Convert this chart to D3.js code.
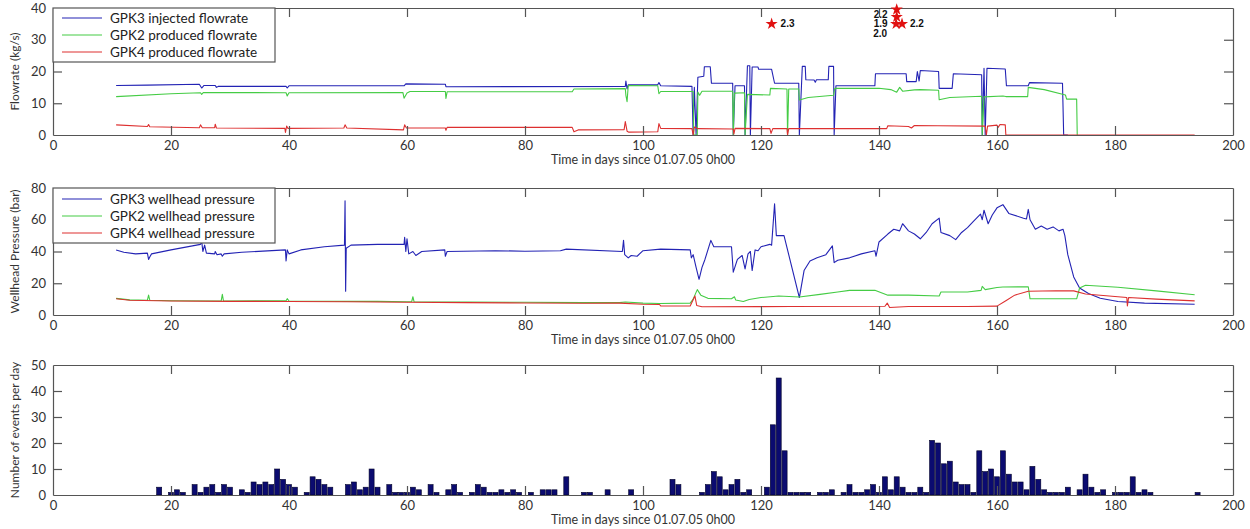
<!DOCTYPE html>
<html><head><meta charset="utf-8">
<script src="https://cdn.jsdelivr.net/npm/d3@7"></script>
<style>
body{margin:0;background:#fff;}
svg{display:block;font-family:Lato, "Liberation Sans", sans-serif;}
</style></head>
<body>
<svg id="c" width="1250" height="529"></svg>
<script>
// ---------------- DATA ----------------
const xTicks = [0,20,40,60,80,100,120,140,160,180,200];
const flowTicks = [0,10,20,30,40];
const pressureTicks = [0,20,40,60,80];
const eventTicks = [0,10,20,30,40,50];
const xTitle = "Time in days since 01.07.05 0h00";
const flowTitle = "Flowrate (kg/s)";
const pressureTitle = "Wellhead Pressure (bar)";
const eventTitle = "Number of events per day";
const flowLegend = ["GPK3 injected flowrate","GPK2 produced flowrate","GPK4 produced flowrate"];
const pressureLegend = ["GPK3 wellhead pressure","GPK2 wellhead pressure","GPK4 wellhead pressure"];

// [day, kg/s]
const gpk3Flow = [[10.7,15.6],[16,15.7],[24.8,16],[25.2,14.8],[25.6,15.6],[27.5,15.6],[27.7,15.0],[28,15.3],[39.5,15.3],[39.7,14.8],[40,15.5],[59.5,15.5],[59.8,16.1],[66.5,16],[66.6,15.2],[97,15.3],[97.1,17],[97.3,14.5],[97.5,15.8],[102.5,15.8],[102.7,16.5],[103,15.5],[108.3,15.3],[108.5,0],[108.7,15],[109,0],[109.3,18.2],[110.3,18.5],[110.4,21.5],[111.4,21.5],[111.6,16.3],[115.2,16.3],[115.3,0],[115.6,15.5],[117.2,15.5],[117.3,0],[117.7,21.8],[118.1,21.8],[118.2,0],[118.5,21.4],[119.5,21.4],[119.6,20.7],[121.8,20.7],[122.3,16.3],[126.4,16.3],[126.5,0],[127,21.6],[127.5,21.6],[127.6,17.4],[129,17.3],[129.2,16.6],[129.4,17.4],[131.4,17.4],[131.5,21.6],[132.3,21.6],[132.4,0],[132.7,15.5],[139.3,15.5],[139.4,19.3],[144.6,19.3],[144.7,16.8],[146.3,16.8],[146.5,20],[146.8,17],[147,20.3],[150.1,20],[150.2,14.7],[152.4,14.7],[152.6,19.3],[157.4,19],[157.5,0],[157.8,21],[158,0],[158.3,21],[161.4,20.8],[161.6,15.5],[165.3,15.5],[165.5,16.5],[171.1,16.3],[171.3,0],[172,0]];
const gpk2Flow = [[10.7,12.1],[20,13.0],[25,13.3],[25.2,12.8],[25.5,13.4],[39.5,13.3],[39.7,12.3],[40,13.3],[59.3,13.4],[59.5,11.6],[60,13.2],[60.5,13.7],[66.5,13.7],[66.6,11.5],[66.8,13.6],[88,13.6],[88.3,14.5],[97,14.6],[97.1,12.5],[97.3,10.5],[97.5,15.6],[102.5,15.5],[102.7,13.0],[103,13.7],[108.5,13.7],[108.6,0],[109.2,0],[109.3,13.5],[109.6,12.5],[110,13.8],[115.2,13.8],[115.3,0],[115.5,13.2],[117.2,13.3],[117.3,0],[117.7,12.8],[121.5,12.6],[121.6,14.7],[124.4,14.5],[124.5,0],[124.7,14.5],[126.4,14.5],[126.5,11],[128,11.8],[132.3,12.5],[132.5,14.7],[140,14.7],[142,14.3],[143,13.5],[143.5,15],[144,13.8],[146,14.2],[147,14.3],[150.1,14.1],[150.2,11.1],[152,11.8],[157.4,12.2],[157.5,0],[157.8,12],[161,12.3],[161.5,12.1],[165.2,12.1],[165.3,15],[168,14.3],[171.6,12.6],[171.8,11.3],[173.5,11.3],[173.6,0]];
const gpk4Flow = [[10.7,3.2],[16,2.7],[16.2,3.3],[16.4,2.6],[24.8,2.3],[25,3.2],[25.3,2.3],[27.4,2.3],[27.5,3.4],[27.7,2.2],[39.3,2.1],[39.4,0.8],[39.6,2.8],[39.8,2.1],[49.3,2.2],[49.5,3.2],[49.8,2.2],[59.4,1.6],[59.6,3.2],[59.9,2.2],[66.5,2.2],[66.6,1.5],[66.8,2.4],[88,2.4],[88.3,1.0],[89,1.6],[96.8,1.7],[97,4.2],[97.3,1.2],[97.6,0.9],[102.5,1.0],[102.7,3.6],[103,2.1],[108.3,2.0],[108.5,0],[108.7,2.5],[109.3,2.0],[115.3,1.9],[115.4,0.3],[115.6,2.1],[121.5,2.0],[121.7,0.5],[122,2],[124.4,2],[124.5,0],[124.7,2],[141.3,2.0],[141.5,2.9],[145,2.7],[145.5,2.2],[146,3],[150,2.9],[158,2.8],[158.2,0],[158.4,2.8],[160,3.1],[160.2,2.4],[160.5,3.3],[161.4,3.2],[161.5,0],[193.5,0]];

// [day, bar]
const gpk3Pressure = [[10.7,41],[12,39.5],[14,38.5],[16,39],[16.2,35],[16.4,36.5],[16.7,38.5],[20,41],[25,44.5],[25.2,46.5],[25.4,40],[25.7,44],[26,39],[27.4,38.5],[27.5,40],[27.8,38],[28.5,38.5],[28.7,37],[29,38.5],[32,39.5],[39.4,41],[39.5,34],[39.7,41],[40,38.5],[42,41],[46,43],[49.4,44],[49.5,72],[49.6,15],[49.7,42],[50.5,44],[55,44.5],[59.5,44.5],[59.6,49],[59.8,40],[60,48],[60.3,38.5],[61,40],[61.5,37.5],[62.5,40],[66.4,41],[66.5,37],[66.8,40],[75,40.5],[80,40.2],[86,40.5],[87,41.5],[96.5,40],[96.7,47],[96.9,38],[97.5,36],[98,37.5],[99,37],[100,40.5],[103,41.5],[108,41],[108.2,36],[108.5,38],[109,30],[109.5,22.5],[110,30],[110.5,35],[111.5,47],[112,43],[115,43],[115.3,27],[116,35],[116.8,37.5],[117.3,29],[117.8,38.5],[118.2,40],[118.5,28],[119,41],[119.5,40.5],[120,43],[121.5,44.5],[121.8,44],[122.3,70],[122.6,50],[123.9,50],[126.5,11],[127.3,28],[128.3,34],[129.5,36],[131,38],[132.1,43.5],[132.4,33],[133,34.5],[135,36],[137,38.5],[139.3,40.5],[139.5,37],[140,46],[141.5,51],[142.5,54],[143.5,53],[144,57.5],[145,53],[146,51],[147,48],[148,52],[149,57.5],[150.2,61],[150.5,52],[152,50],[153,47.5],[154,52],[155,55],[156,59],[157.2,63.5],[157.5,60],[157.8,66],[158.5,57.5],[159.2,63],[160,67.5],[161,69.5],[162,64],[164.5,61],[165,60.5],[165.3,66.5],[165.6,60],[166.5,54],[167.5,56],[168.5,54],[169.5,55.5],[170.5,53],[171.2,54],[171.5,50],[172,38],[173,24],[174,17],[175.5,13.5],[177.5,10.5],[180.5,8.5],[185,7.5],[193.5,6.8]];
const gpk2Pressure = [[10.7,10.5],[13,9.5],[16,9.3],[16.2,12.5],[16.4,9.3],[20,9],[28.5,8.8],[28.7,13],[28.9,8.8],[39.5,9],[39.7,10.3],[40,8.8],[50,8.6],[55,8.6],[60,8.3],[60.8,8.5],[61,11.5],[61.2,8.3],[70,8.2],[80,8],[90,7.8],[96,7.8],[97,8.2],[100,7.5],[102.8,7.2],[108,7.5],[108.5,10],[109.2,16],[109.8,12.5],[111,10.5],[115,10.2],[115.5,11.5],[115.7,9.5],[117,8.5],[118,9.8],[120,11],[123,12],[126.5,11.3],[130,13],[133,14.5],[135,15.5],[139.3,15.6],[141.5,12.5],[145,12.5],[150.2,12],[150.5,14.5],[155,14.5],[157.3,15.5],[157.5,18],[158,16],[160,17.3],[161,17.6],[165.3,17.8],[165.6,10.2],[173.5,10.2],[174,17],[175,18.7],[180.5,17.5],[187,15.2],[193.5,12.8]];
const gpk4Pressure = [[10.7,10.2],[13,9.3],[20,8.8],[30,8.6],[40,8.5],[50,8.3],[60,8],[70,7.8],[80,7.6],[90,7.4],[96,7.5],[100,6.8],[102.8,6.6],[103,5.7],[108,5.7],[108.8,12],[109.1,6],[110,5.2],[120,5.3],[125,5.4],[141,5.5],[141.4,7.5],[141.8,4.7],[145,5.4],[155,5.4],[160,5.6],[161.5,9],[163,12.5],[165.3,15],[170,15.3],[173,15.2],[175,13.2],[180.5,11.5],[182,11],[182.1,5.7],[182.3,11],[187,10],[193.5,8.9]];

// events per day
const eventDays = [18,20,21,22,24,25,26,27,28,29,30,32,33,34,35,36,37,38,39,40,41,43,44,45,46,47,50,51,52,53,54,55,57,58,59,60,61,62,64,65,67,68,69,71,72,73,74,75,76,77,78,79,81,83,84,85,87,90,91,94,98,105,106,110,111,112,113,114,115,116,117,118,121,122,123,124,125,126,127,128,130,131,132,134,135,136,137,138,139,140,141,142,143,144,145,146,147,148,149,150,151,152,153,154,155,156,157,158,159,160,161,162,163,164,165,166,167,168,169,170,171,172,174,175,176,177,178,180,181,182,183,184,185,186,194];
const eventCounts = [3,1,2,1,4,1,3,4,1,4,3,2,1,5,4,5,4,10,6,4,3,1,7,6,4,3,4,5,2,3,10,3,4,1,1,1,3,2,4,1,2,4,1,1,4,3,1,1,2,1,2,1,1,2,2,2,7,1,1,2,2,6,4,1,4,9,7,2,4,6,1,2,3,27,45,17,1,1,1,1,1,1,2,1,4,1,1,2,4,1,7,2,7,3,1,1,3,1,21,20,12,13,5,4,4,1,17,9,10,7,17,8,5,5,2,11,6,2,1,1,1,3,2,8,3,1,2,1,1,1,7,1,2,1,1];

// seismic event magnitudes marked on top panel
const starDays = [121.8, 143.0, 143.0, 142.9, 143.9];
const starValues = [35, 39.5, 37.2, 35, 35];
const starLabels = ["2.3", "2.2", "1.9", "2.0", "2.2"];

// ---------------- STYLE / LAYOUT ----------------
const colors = ["#2323b4", "#45cc45", "#dd3030"];
const axisColor = "#555";
const textColor = "#333";
const svg = d3.select("#c");
const x = d3.scaleLinear().domain([0,200]).range([53,1233]);

const panels = [
  {top:8, bottom:135, domain:[0,40], ticks:flowTicks, title:flowTitle},
  {top:188, bottom:315, domain:[0,80], ticks:pressureTicks, title:pressureTitle},
  {top:365, bottom:495, domain:[0,50], ticks:eventTicks, title:eventTitle}
];

function drawAxes(p, y){
  const g = svg.append("g");
  const tl = 9;
  const bx = g.append("g").attr("transform",`translate(0,${p.bottom})`)
    .call(d3.axisBottom(x).tickValues(xTicks).tickSizeInner(-tl).tickSizeOuter(0).tickPadding(6));
  const tx = g.append("g").attr("transform",`translate(0,${p.top})`)
    .call(d3.axisTop(x).tickValues(xTicks).tickSizeInner(-tl).tickSizeOuter(0).tickFormat(""));
  const ly = g.append("g").attr("transform",`translate(${x(0)},0)`)
    .call(d3.axisLeft(y).tickValues(p.ticks).tickSizeInner(-tl).tickSizeOuter(0).tickPadding(7));
  const ry = g.append("g").attr("transform",`translate(${x(200)},0)`)
    .call(d3.axisRight(y).tickValues(p.ticks).tickSizeInner(-tl).tickSizeOuter(0).tickFormat(""));
  g.selectAll("path.domain").attr("stroke",axisColor).attr("stroke-width",1.2);
  g.selectAll(".tick line").attr("stroke",axisColor).attr("stroke-width",1.2);
  g.selectAll(".tick text").attr("fill",textColor).attr("font-size",13).attr("font-family","Lato, sans-serif");
  bx.selectAll(".tick").filter(d=>d===0||d===200).select("line").remove();
  tx.selectAll(".tick").filter(d=>d===0||d===200).select("line").remove();
  ly.selectAll(".tick").filter(d=>d===p.domain[0]||d===p.domain[1]).select("line").remove();
  ry.selectAll(".tick").filter(d=>d===p.domain[0]||d===p.domain[1]).select("line").remove();
  svg.append("text").attr("x",(x(0)+x(200))/2).attr("y",p.bottom+29)
    .attr("text-anchor","middle").attr("font-size",12.5).attr("fill",textColor).text(xTitle);
  svg.append("text").attr("transform",`translate(19,${(p.top+p.bottom)/2}) rotate(-90)`)
    .attr("text-anchor","middle").attr("font-size",12).attr("fill",textColor).text(p.title);
}

function drawLines(series, y){
  const line = d3.line().x(d=>x(d[0])).y(d=>y(d[1]));
  series.forEach((s,i)=>{
    svg.append("path").datum(s).attr("d",line).attr("fill","none")
      .attr("stroke",colors[i]).attr("stroke-width",1.1).attr("stroke-linejoin","round");
  });
}

function drawLegend(p, labels, rowY){
  const g = svg.append("g");
  g.append("rect").attr("x",x(0)).attr("y",p.top).attr("width",222).attr("height",rowY[2]-p.top+10)
    .attr("fill","#fff").attr("stroke",axisColor).attr("stroke-width",1.2);
  labels.forEach((t,i)=>{
    g.append("line").attr("x1",62).attr("x2",102).attr("y1",rowY[i]).attr("y2",rowY[i])
      .attr("stroke",colors[i]).attr("stroke-width",1.2);
    g.append("text").attr("x",110).attr("y",rowY[i]+4.5).attr("font-size",13.5)
      .attr("fill","#222").text(t);
  });
}

// Panel 1: flowrates
{
  const p = panels[0];
  const y = d3.scaleLinear().domain(p.domain).range([p.bottom,p.top]);
  drawLines([gpk3Flow,gpk2Flow,gpk4Flow], y);
  drawAxes(p,y);
  drawLegend(p, flowLegend, [18,35,52]);
  const star = d3.symbol().type(d3.symbolStar).size(46);
  const offs = [[9,3.5,"start"],[-9,8,"end"],[-9,10.5,"end"],[-9,13,"end"],[8,3.5,"start"]];
  starDays.forEach((d,i)=>{
    svg.append("path").attr("d",star).attr("transform",`translate(${x(d)},${y(starValues[i])})`).attr("fill","#e01010");
  });
  starDays.forEach((d,i)=>{
    svg.append("text").attr("x",x(d)+offs[i][0]).attr("y",y(starValues[i])+offs[i][1])
      .attr("text-anchor",offs[i][2]).attr("font-size",10).attr("font-weight","bold")
      .attr("font-family","Liberation Sans, sans-serif").attr("fill","#111").text(starLabels[i]);
  });
}
// Panel 2: pressures
{
  const p = panels[1];
  const y = d3.scaleLinear().domain(p.domain).range([p.bottom,p.top]);
  drawLines([gpk3Pressure,gpk2Pressure,gpk4Pressure], y);
  drawAxes(p,y);
  drawLegend(p, pressureLegend, [199,216,233]);
}
// Panel 3: events
{
  const p = panels[2];
  const y = d3.scaleLinear().domain(p.domain).range([p.bottom,p.top]);
  const w = x(0.85)-x(0);
  svg.append("g").selectAll("rect").data(eventDays).join("rect")
    .attr("x",d=>x(d)-w/2).attr("width",w)
    .attr("y",(d,i)=>y(eventCounts[i])).attr("height",(d,i)=>y(0)-y(eventCounts[i]))
    .attr("fill","#0b0b70").attr("stroke","#000028").attr("stroke-width",0.6);
  drawAxes(p,y);
}
</script>
</body></html>
